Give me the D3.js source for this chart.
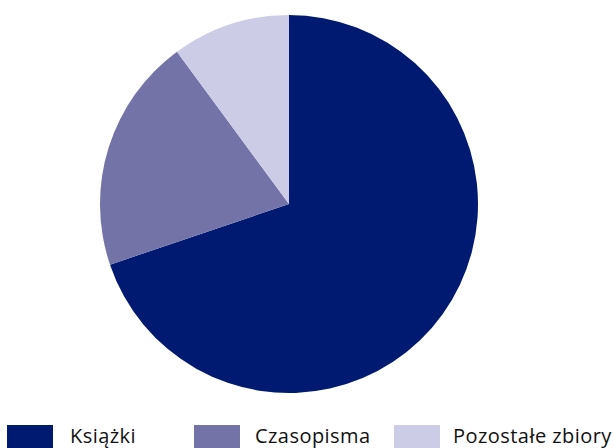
<!DOCTYPE html>
<html><head><meta charset="utf-8">
<script src="https://cdn.jsdelivr.net/npm/d3@7"></script>
<style>body{margin:0;background:#fff;overflow:hidden}</style>
</head><body>
<svg id="c" width="614" height="448"></svg>
<script>
const categories = ["Książki", "Czasopisma", "Pozostałe zbiory"];
const values = [69.8, 20.1, 10.1];
const colors = ["#001a72", "#7373a8", "#cccce6"];

const svg = d3.select("#c");
const cx = 289, cy = 204, r = 189;
const pie = d3.pie().sort(null).value(d => d.v);
const arc = d3.arc().innerRadius(0).outerRadius(r);
const data = categories.map((c, i) => ({c, v: values[i], col: colors[i]}));
svg.append("g").attr("transform", `translate(${cx},${cy})`)
  .selectAll("path").data(pie(data)).join("path")
  .attr("d", arc).attr("fill", d => d.data.col);

const legX = [7, 194, 394];
const textX = [70, 255, 453];
const lg = svg.append("g");
data.forEach((d, i) => {
  lg.append("rect").attr("x", legX[i]).attr("y", 425).attr("width", 46).attr("height", 23).attr("fill", d.col);
  lg.append("text").attr("x", textX[i]).attr("y", 442.5)
    .attr("font-family", "'Open Sans','Noto Sans',sans-serif").attr("font-size", 20)
    .attr("letter-spacing", 0.45)
    .attr("fill", "#111").text(d.c);
});
</script>
</body></html>
